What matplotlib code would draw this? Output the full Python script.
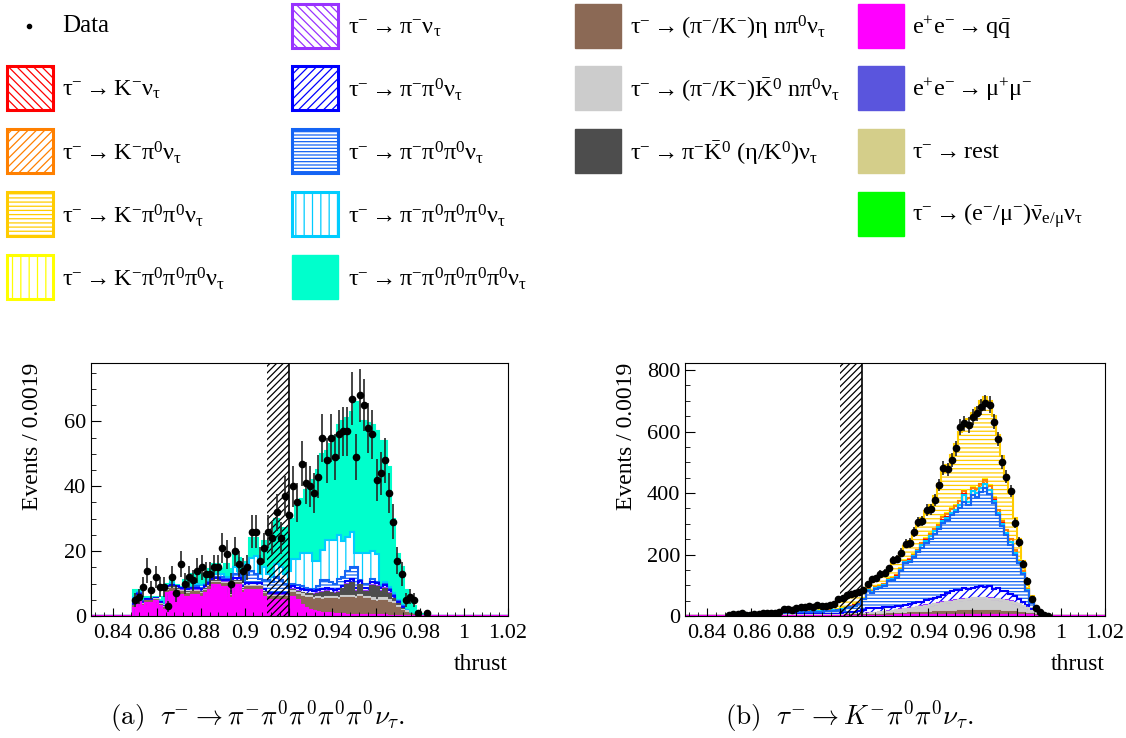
import numpy as np
import matplotlib
matplotlib.use('Agg')
import matplotlib.pyplot as plt
from matplotlib.patches import Rectangle
from matplotlib.ticker import MultipleLocator, FuncFormatter

plt.rcParams['font.family'] = ['Liberation Serif', 'DejaVu Serif']
plt.rcParams['mathtext.fontset'] = 'custom'
plt.rcParams['mathtext.rm'] = 'Liberation Serif'
plt.rcParams['mathtext.it'] = 'Liberation Serif:italic'
plt.rcParams['mathtext.bf'] = 'Liberation Serif:bold'
plt.rcParams['hatch.linewidth'] = 0.9

# 100 bins of 0.0019 in thrust
edges = np.linspace(0.83, 1.02, 101)
centres = 0.5 * (edges[1:] + edges[:-1])

# ---- (a) tau -> pi- 4pi0 nu : bins 10..80 ----
first_a = 10
data_a = [5, 6, 9, 14, 8, 12, 9, 9, 3, 12,
          7, 16, 10, 12, 11, 14, 15, 13, 13, 15,
          15, 21, 19, 10, 20, 16, 14, 15, 26, 26,
          17, 21, 26, 24, 32, 24, 37, 31, 40, 35,
          47, 41, 40, 38, 43, 55, 48, 55, 49, 56,
          57, 57, 67, 49, 68, 65, 58, 56, 42, 44,
          48, 38, 29, 17, 13, 5, 6, 5, 1, 0, 1]
qq_a = [2.5, 5.5, 3, 4, 4, 4.5, 3, 2, 7, 7.5,
        7, 6.5, 6, 6, 6.5, 6.5, 6, 7, 8, 9.5,
        9.5, 9, 9, 5.5, 9.5, 9.5, 7, 8, 8, 8,
        8, 6, 5, 5, 5, 5, 5, 4.5, 6, 5,
        3.5, 2.5, 2, 1.5, 1.2, 1, .8, .8, .6, .5,
        .5, .4, .4, .3, .3, .3, .3, .2, .2, .2,
        .2, .1, .1, 0, 0, 0, 0, 0, 0, 0, 0]
eta_a = [.5, .5, .5, .5, .5, .5, .5, .5, .8, .8,
         .8, .8, .8, .8, .8, .8, .8, .8, .8, .8,
         .8, .8, .8, .8, .8, .8, .8, .8, .8, .8,
         .8, .8, .8, .8, .8, .8, .8, .8, 1, 1.5,
         2.5, 3, 3.5, 3.5, 4, 4, 4.5, 4.5, 4.5, 4.5,
         5, 5, 5, 5, 5.5, 5, 5, 4.5, 4, 4.5,
         4.5, 4, 3.5, 2.5, 1.5, 1, .5, .3, 0, 0, 0]
k0n_a = [.2, .2, .2, .2, .2, .2, .2, .2, .3, .3,
         .3, .3, .3, .3, .3, .3, .3, .3, .3, .3,
         .3, .3, .3, .3, .3, .3, .3, .3, .3, .3,
         .3, .3, .3, .3, .3, .3, .3, .3, .7, .7,
         .7, .7, .7, .7, .7, .7, .7, .7, .7, .7,
         .7, .7, .7, .7, .7, .7, .7, .7, .7, .7,
         .7, .7, .7, .5, .5, .5, 0, 0, 0, 0, 0]
pik0_a = [0, 0, 0, 0, 0, 0, 0, 0, .2, .2,
          .2, .2, .2, .2, .2, .2, .2, .2, .2, .2,
          .2, .2, .2, .2, .2, .2, .2, .2, .2, .2,
          .2, .2, .2, .2, .2, .2, .2, .2, .3, .3,
          .3, .5, .5, .8, 1, 1.5, 1.5, 1, 1, 1.5,
          2, 3.5, 4, 1.5, 3, 1.5, 1.5, 4, 4, 2,
          3, 2, 1, .8, .3, 0, 0, 0, 0, 0, 0]
pinu_a = [0, 0, 0, 0, 0, 0, 0, 0, .1, .1,
          .1, .1, .1, .1, .1, .1, .1, .1, .1, .1,
          .1, .1, .1, .1, .1, .1, .1, .1, .1, .1,
          .1, .1, .1, .1, .1, .1, .1, .1, .2, .2,
          .2, .2, .2, .2, .2, .2, .2, .2, .2, .2,
          .2, .2, .2, .2, .2, .2, .2, .2, .2, .2,
          .2, .2, 0, 0, 0, 0, 0, 0, 0, 0, 0]
pipi0_a = [.5, .5, .5, .5, .5, .5, .5, .5, .8, .8,
           .8, .8, .8, .8, .8, .8, .8, .8, .8, .8,
           .8, .8, .8, .8, .8, .8, .8, .8, .8, .8,
           .8, .8, .8, .8, .8, .8, .8, .8, 1, 1,
           1, 1, 1, 1, 1, 1, 1, 1, 1, 1,
           1, 1, 1, 1, 1, 1, 1, 1, 1, 1,
           1, 1, 1, .5, .5, 0, 0, 0, 0, 0, 0]
pi2pi0_a = [.5, .3, .3, 0, 0, 0, 0, 0, 0, 0,
            0, 0, 0, 0, 0, .5, .5, .3, .3, .3,
            .3, .8, .3, 1, 1.3, 1.3, 1.3, 2.3, 3.8, 2.8,
            1.3, 2.8, 3.8, 3.3, 4.8, 3.8, 2.8, 2.3, .8, 1,
            1, .8, .5, .5, 1, 2.6, 2.3, 2.3, 2, 3,
            2.6, 3.2, 3.7, 6.3, .5, 1.3, 1.3, .9, .4, .4,
            .4, .3, .2, .2, .2, 0, 0, 0, 0, 0, 0]
pi3pi0_a = [1.8, .5, 0, 0, 0, 0, .3, .8, 0, .5,
            0, 0, .8, .3, .3, .8, .8, .5, .5, 1,
            1, 1, .5, .3, 2, 1, .5, 3.5, 4, 5.5,
            1.5, 4, 2, 1.5, 4, 4, 3, 5, 7.5, 7.8,
            10.3, 10.8, 11, 8.8, 8, 9.5, 12.5, 13, 13.5, 13.6,
            11, 10.5, 11, 4.5, 8.3, 9.5, 9.5, 8.5, 8.5, .5,
            .5, .5, .5, .5, .5, .3, 0, 0, 0, 0, 0]
pi4pi0_a = [2, .5, 1.5, .8, .8, .3, .5, 2, .8, .8,
            .3, .3, 2, 3.5, 4, 1.5, 3.5, 3, 3.5, 3,
            3, 1.5, 4, 5.5, 4.5, 4, 4.5, .5, 6, 5.5,
            5.5, 8, 9, 12, 14, 12, 14, 11, 12.5, 16.5,
            16.5, 19.5, 20.6, 25, 28, 29.5, 27.5, 29.5, 32, 34,
            37, 36.5, 37, 46.5, 40.5, 40.5, 40, 39, 38, 44.5,
            43.5, 37.2, 23, 14, 11.5, 6.2, 5.5, 2.7, 1.5, .5, 0]

# ---- (b) tau -> K- 2pi0 nu : bins 10..86 ----
first_b = 10
data_b = [3, 5, 6, 9, 4, 4, 7, 8, 9, 10, 9, 11, 13, 24, 23, 18, 26, 29, 29, 31,
          29, 35, 33, 34, 37, 39,
          55, 58, 68, 70, 74, 79, 86, 104, 120, 123, 138, 140, 155, 182, 185, 206,
          235, 238, 272, 306, 309, 345, 347, 376, 426, 482, 477, 508, 545, 615, 627,
          621, 648, 659, 679, 694, 688, 632, 576, 501, 453, 406, 303, 241, 169, 115,
          54, 25, 13, 4, 1]
qq_b = [.3] * 12 + [.5] * 28 + [2] * 33 + [.5] * 4
eta_b = [.3] * 12 + [.5] * 14 + [
    1, 1, 1.5, 1.5, 2, 2, 2, 2.5, 3, 3, 4, 4, 5, 5, 5, 6, 6, 7, 7, 8, 8, 9, 9, 10, 10,
    11, 11, 12, 12, 13, 13, 13, 14, 14, 14, 14, 13, 13, 13, 12, 12, 11, 10, 9, 8, 6,
    4, 2, 1, .5, 0]
k0n_b = [.6] * 12 + [1] * 14 + [
    2, 2, 3, 3, 3, 4, 4, 5, 5, 6, 7, 8, 9, 10, 11, 12, 14, 15, 17, 18, 20, 22, 24, 26,
    28, 30, 32, 33, 35, 37, 38, 40, 41, 42, 42, 42, 41, 40, 39, 37, 35, 33, 30, 27, 22,
    17, 11, 6, 3, 1, 0]
pinu_b = [.2] * 12 + [.5] * 28 + [1.5] * 31 + [.5] * 5 + [0]
pipi0_b = [.3, .4, .5, .6, .6, .6, .7, .7, .8, .9, 1, 1.1, 1.5, 1.8, 2, 2.2, 2.6, 3,
           3.2, 3.3, 3.6, 3.7, 3.8, 4, 4.2, 4.5,
           4, 5, 4.5, 6.5, 7, 8, 11, 18.5, 16, 17, 15, 15, 15, 14, 12.5, 11.5, 11.5,
           12.5, 14.5, 15.5, 15.5, 17.5, 18.5, 18.5, 20.5, 23.5, 28.5, 31.5, 34.5,
           30.5, 35.5, 31.5, 33.5, 35.5, 37.5, 35.5, 38.5, 31.5, 34.5, 29.5, 29.5,
           24.5, 21.5, 15.5, 11.5, 9.5, 4.5, 1, .5, 0, 0]
pi2pi0_b = [.5, .8, 1, 1.3, 1.3, 1.3, 1.6, 1.6, 1.9, 2.2, 2.5, 2.8, 3.5, 4, 4.5, 5,
            5.8, 6.5, 7, 7.3, 7.8, 8, 8.3, 8.6, 9.1, 10,
            11, 12, 15, 17, 20, 24, 36, 55, 51, 60, 65, 69, 84, 87, 93, 114, 137, 139,
            150, 162, 175, 185, 197, 209, 220, 234, 237, 247, 252, 268, 280, 272, 301,
            293, 306, 323, 302, 279, 237, 210, 182, 160, 132, 116, 91, 46, 19, 7.5, 2,
            0, 0]
pi3pi0_b = [.1, .1, .2, .2, .2, .2, .3, .3, .3, .4, .4, .5, .6, .7, .8, .9, 1, 1.1,
            1.2, 1.3, 1.4, 1.4, 1.5, 1.5, 1.6, 1.7] + [1] * 7 + [3] * 13 + [8] * 10 + \
           [25, 10, 12, 12, 12, 12, 12] + [8] * 6 + [4] * 4 + [.5] * 4
knu_b = [0] * 30 + [.5] * 10 + [1] * 31 + [0] * 6
kpi0_b = [.1, .1, .2, .2, .2, .2, .3, .3, .3, .4, .4, .5, .6, .7, .8, .9, 1, 1.1,
          1.2, 1.3, 1.4, 1.4, 1.5, 1.5, 1.6, 1.7] + [1] * 7 + [3] * 13 + [6] * 5 + \
         [12] * 12 + [8] * 6 + [4] * 4 + [.5] * 4
k3pi0_b = [.2] * 12 + [.3] * 14 + [2] * 47 + [.5] * 4
k2pi0_b = [.4, 1, 1.5, 2.1, 2.1, 2.1, 2.5, 2.5, 3.1, 3.5, 4.1, 4.5, 4, 5, 6.1, 7.2,
           8.8, 10.5, 11.6, 12, 13, 13.7, 14.1, 14.6, 15.7, 17.3,
           22, 25, 29, 32, 32.5, 32.5, 26.5, 9.5, 25.5, 24.5, 31.5, 34.5, 32.5, 49.5,
           54, 49, 47, 59, 69, 84, 81, 86, 93, 106, 131, 145, 155, 175, 200, 225, 215,
           255, 240, 260, 270, 267, 275, 264, 244, 209, 179, 149, 104, 68, 33, 29, 14,
           11, 5, 1, 0]

styles = {
    'qq': ('#FF00FF', None),
    'eta': ('#8B6955', None),
    'k0n': ('#CCCCCC', None),
    'pik0': ('#4D4D4D', None),
    'pinu': ('#9933FF', '\\\\\\\\'),
    'pipi0': ('#0000FF', '////'),
    'pi2pi0': ('#1464F4', '-----'),
    'pi3pi0': ('#00CCFF', '||'),
    'pi4pi0': ('#00FFCC', None),
    'knu': ('#FF0000', '\\\\\\\\'),
    'kpi0': ('#FF8000', '////'),
    'k2pi0': ('#FFCC00', '----'),
    'k3pi0': ('#FFFF00', '||'),
    'mumu': ('#5A55DD', None),
    'rest': ('#D4CE8A', None),
    'lep': ('#00FF00', None),
}


def full(vals, first):
    out = np.zeros(100)
    out[first:first + len(vals)] = vals
    return out


def draw_panel(ax, stack, data, first, band, ymax, major, minor):
    cum = np.zeros(100)
    tops = []
    for key, vals in stack:
        col, hatch = styles[key]
        top = cum + full(vals, first)
        if hatch is None:
            ax.stairs(top, edges, baseline=cum, fill=True, facecolor=col,
                      edgecolor='none', lw=0)
        else:
            ax.stairs(top, edges, baseline=cum, fill=True, facecolor='none',
                      edgecolor=col, hatch=hatch, lw=0)
        tops.append((top, col))
        cum = top
    for top, col in reversed(tops):
        ax.stairs(top, edges, color=col, lw=1.5)

    ax.add_patch(Rectangle((band[0], 0), band[1] - band[0], ymax, fill=False,
                           hatch='/////', edgecolor='black', lw=0, zorder=4))
    ax.axvline(band[1], color='black', lw=1.2, zorder=4)

    d = full(data, first)
    m = d > 0
    ax.errorbar(centres[m], d[m], yerr=np.sqrt(d[m]), fmt='o', ms=4.5,
                color='black', ecolor='0.15', elinewidth=1.2, capsize=0, zorder=5)

    ax.set_xlim(0.83, 1.02)
    ax.set_ylim(0, ymax)
    ax.xaxis.set_major_locator(MultipleLocator(0.02))
    ax.xaxis.set_minor_locator(MultipleLocator(0.004))
    ax.xaxis.set_major_formatter(FuncFormatter(lambda v, p: f'{v:g}'))
    ax.yaxis.set_major_locator(MultipleLocator(major))
    ax.yaxis.set_minor_locator(MultipleLocator(minor))
    ax.tick_params(which='both', direction='in', top=False, right=False,
                   labelsize=16)
    ax.tick_params(axis='x', which='major', length=6, pad=6)
    ax.tick_params(axis='x', which='minor', length=3)
    ax.tick_params(axis='y', which='major', length=7)
    ax.tick_params(axis='y', which='minor', length=3.5)
    ax.set_ylabel('Events / 0.0019', fontsize=17, loc='top')
    ax.yaxis.set_label_coords(-0.115, 1.0)
    ax.set_xlabel('thrust', fontsize=17, loc='right')
    ax.xaxis.set_label_coords(1.0, -0.15)


fig = plt.figure(figsize=(11.26, 7.38), dpi=100)

# legend drawn in pixel coordinates on an overlay
lax = fig.add_axes([0, 0, 1, 1])
lax.set_xlim(0, 1126)
lax.set_ylim(738, 0)
lax.axis('off')

box_x = [7, 292, 575, 858]
text_x = [62, 348, 630, 912]
row_y = [26, 88, 151, 214, 277]
legend_items = [
    (0, 1, 'knu', r'$\mathrm{\tau^{-} \rightarrow K^{-}\nu_{\tau}}$'),
    (0, 2, 'kpi0', r'$\mathrm{\tau^{-} \rightarrow K^{-}\pi^{0}\nu_{\tau}}$'),
    (0, 3, 'k2pi0', r'$\mathrm{\tau^{-} \rightarrow K^{-}\pi^{0}\pi^{0}\nu_{\tau}}$'),
    (0, 4, 'k3pi0', r'$\mathrm{\tau^{-} \rightarrow K^{-}\pi^{0}\pi^{0}\pi^{0}\nu_{\tau}}$'),
    (1, 0, 'pinu', r'$\mathrm{\tau^{-} \rightarrow \pi^{-}\nu_{\tau}}$'),
    (1, 1, 'pipi0', r'$\mathrm{\tau^{-} \rightarrow \pi^{-}\pi^{0}\nu_{\tau}}$'),
    (1, 2, 'pi2pi0', r'$\mathrm{\tau^{-} \rightarrow \pi^{-}\pi^{0}\pi^{0}\nu_{\tau}}$'),
    (1, 3, 'pi3pi0', r'$\mathrm{\tau^{-} \rightarrow \pi^{-}\pi^{0}\pi^{0}\pi^{0}\nu_{\tau}}$'),
    (1, 4, 'pi4pi0', r'$\mathrm{\tau^{-} \rightarrow \pi^{-}\pi^{0}\pi^{0}\pi^{0}\pi^{0}\nu_{\tau}}$'),
    (2, 0, 'eta', r'$\mathrm{\tau^{-} \rightarrow (\pi^{-}/K^{-})\eta\ n\pi^{0}\nu_{\tau}}$'),
    (2, 1, 'k0n', r'$\mathrm{\tau^{-} \rightarrow (\pi^{-}/K^{-})\bar{K}^{0}\ n\pi^{0}\nu_{\tau}}$'),
    (2, 2, 'pik0', r'$\mathrm{\tau^{-} \rightarrow \pi^{-}\bar{K}^{0}\ (\eta/K^{0})\nu_{\tau}}$'),
    (3, 0, 'qq', r'$\mathrm{e^{+}e^{-} \rightarrow q\bar{q}}$'),
    (3, 1, 'mumu', r'$\mathrm{e^{+}e^{-} \rightarrow \mu^{+}\mu^{-}}$'),
    (3, 2, 'rest', r'$\mathrm{\tau^{-} \rightarrow rest}$'),
    (3, 3, 'lep', r'$\mathrm{\tau^{-} \rightarrow (e^{-}/\mu^{-})\bar{\nu}_{e/\mu}\nu_{\tau}}$'),
]
lax.plot([29], [row_y[0]], 'o', color='black', ms=3)
lax.text(text_x[0], row_y[0], 'Data', fontsize=18, va='center')
for col, row, key, label in legend_items:
    colour, hatch = styles[key]
    y = row_y[row]
    if hatch is None:
        lax.add_patch(Rectangle((box_x[col], y - 22), 46, 44, facecolor=colour,
                                edgecolor=colour, lw=1))
    else:
        lax.add_patch(Rectangle((box_x[col], y - 22), 46, 44, facecolor='white',
                                edgecolor=colour, hatch=hatch, lw=2.2))
    lax.text(text_x[col], y + 2, label, fontsize=17.5, va='center')

ax_a = fig.add_axes([91 / 1126, 1 - 616 / 738, 417 / 1126, 253 / 738])
stack_a = [('qq', qq_a), ('eta', eta_a), ('k0n', k0n_a), ('pik0', pik0_a),
           ('pinu', pinu_a), ('pipi0', pipi0_a), ('pi2pi0', pi2pi0_a),
           ('pi3pi0', pi3pi0_a), ('pi4pi0', pi4pi0_a)]
draw_panel(ax_a, stack_a, data_a, first_a, (0.91, 0.92), 78, 20, 5)

ax_b = fig.add_axes([685 / 1126, 1 - 616 / 738, 420 / 1126, 253 / 738])
stack_b = [('qq', qq_b), ('eta', eta_b), ('k0n', k0n_b), ('pinu', pinu_b),
           ('pipi0', pipi0_b), ('pi2pi0', pi2pi0_b), ('pi3pi0', pi3pi0_b),
           ('knu', knu_b), ('kpi0', kpi0_b), ('k3pi0', k3pi0_b), ('k2pi0', k2pi0_b)]
draw_panel(ax_b, stack_b, data_b, first_b, (0.90, 0.91), 823, 200, 50)

lax.text(257, 717, r'$\mathrm{(a)}\ \ \tau^{-} \rightarrow \pi^{-}\pi^{0}\pi^{0}\pi^{0}\pi^{0}\nu_{\tau}.$',
         fontsize=19.5, ha='center', va='center', math_fontfamily='cm')
lax.text(849, 717, r'$\mathrm{(b)}\ \ \tau^{-} \rightarrow K^{-}\pi^{0}\pi^{0}\nu_{\tau}.$',
         fontsize=19.5, ha='center', va='center', math_fontfamily='cm')

fig.savefig('out.png', dpi=100)
